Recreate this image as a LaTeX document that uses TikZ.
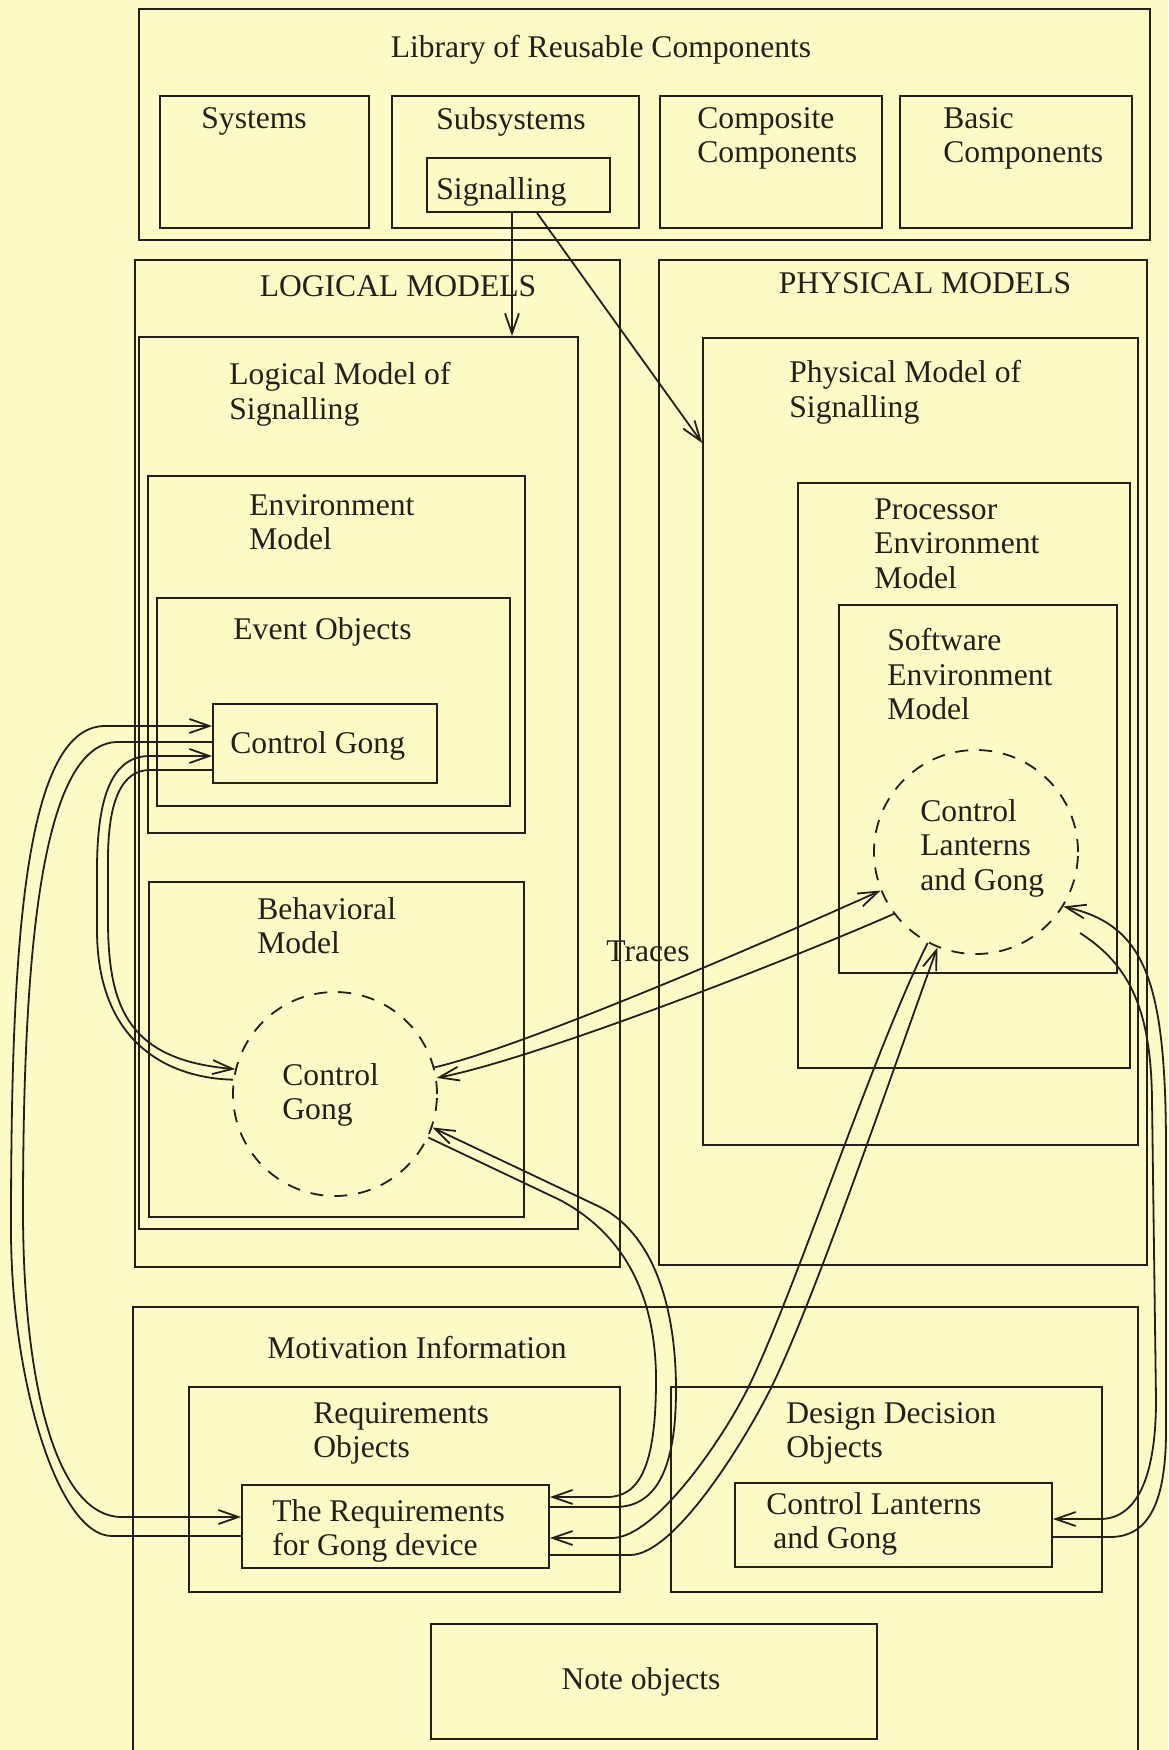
\documentclass[tikz,border=0pt]{standalone}
\usepackage{fontspec}
\setmainfont{Liberation Serif}
\usetikzlibrary{arrows.meta,fit}
\definecolor{paper}{RGB}{252,251,200}
\definecolor{ink}{RGB}{35,32,24}
\begin{document}
\begin{tikzpicture}[x=0.5pt,y=-0.5pt,
  box/.style={draw=ink, line width=0.9pt, inner sep=0pt, fit={#1}},
  dring/.style={circle, draw=ink, line width=0.9pt, dash pattern=on 6.5pt off 5.5pt,
    minimum size=102pt, inner sep=0pt},
  lbl/.style={font=\fontsize{15.8}{17.25}\selectfont, text=ink, inner sep=0pt,
    align=left, anchor=north west},
  clbl/.style={font=\fontsize{15.8}{17.25}\selectfont, text=ink, inner sep=0pt,
    anchor=center, text height=0.69em, text depth=0.23em},
  link/.style={draw=ink, line width=0.9pt, -{Straight Barb[length=10pt,width=7pt]}},
]
\fill[paper] (0,0) rectangle (1168,1750);
\useasboundingbox (0,0) rectangle (1168,1750);
\begin{scope}
\clip (0,0) rectangle (1168,1750);

% ---------- library of reusable components ----------
\node[box={(139,9) (1150,240)}] (lib) {};
\node[box={(160,96) (369,228)}] (sys) {};
\node[box={(392,96) (639,228)}] (subsys) {};
\node[box={(427,158) (610,212)}] (sig) {};
\node[box={(660,96) (882,228)}] (comp) {};
\node[box={(900,96) (1132,228)}] (basic) {};

% ---------- logical models ----------
\node[box={(135,260) (620,1267)}] (logm) {};
\node[box={(139,337) (578,1229)}] (lms) {};
\node[box={(148,476) (525,833)}] (env) {};
\node[box={(157,598) (510,806)}] (evt) {};
\node[box={(213,704) (437,783)}] (cgr) {};
\node[box={(149,882) (524,1217)}] (beh) {};
\node[dring] (cg) at (335,1094) {};

% ---------- physical models ----------
\node[box={(659,260) (1147,1265)}] (phym) {};
\node[box={(703,338) (1138,1145)}] (pms) {};
\node[box={(798,483) (1130,1068)}] (proc) {};
\node[box={(839,605) (1117,973)}] (soft) {};
\node[dring] (lc) at (976,852) {};

% ---------- motivation information ----------
\node[box={(133,1307) (1138,1760)}] (motiv) {};
\node[box={(189,1387) (620,1592)}] (reqo) {};
\node[box={(242,1485) (549,1568)}] (rq) {};
\node[box={(671,1387) (1102,1592)}] (ddo) {};
\node[box={(735,1483) (1052,1567)}] (cl) {};
\node[box={(431,1624) (877,1739)}] (note) {};

% ---------- labels ----------
\node[clbl] (t-lib) at (601,53) {Library of Reusable Components};
\node[lbl] (t-sys) at (201,107) {Systems};
\node[lbl] (t-subsys) at (436,107) {Subsystems};
\node[lbl] (t-sig) at (436,177) {Signalling};
\node[lbl] (t-comp) at (697,107) {Composite\\Components};
\node[lbl] (t-basic) at (943,107) {Basic\\Components};
\node[clbl] (t-logm) at (398,292) {LOGICAL MODELS};
\node[clbl] (t-phym) at (925,289) {PHYSICAL MODELS};
\node[lbl] (t-lms) at (229,362) {Logical Model of\\Signalling};
\node[lbl] (t-pms) at (789,360) {Physical Model of\\Signalling};
\node[lbl] (t-env) at (249,494) {Environment\\Model};
\node[lbl] (t-evt) at (233,617) {Event Objects};
\node[lbl] (t-cgr) at (230,731) {Control Gong};
\node[lbl] (t-beh) at (257,897) {Behavioral\\Model};
\node[lbl] (t-cg) at (282,1063) {Control\\Gong};
\node[lbl] (t-proc) at (874,498) {Processor\\Environment\\Model};
\node[lbl] (t-soft) at (887,628) {Software\\Environment\\Model};
\node[lbl] (t-lc) at (920,799) {Control\\Lanterns\\and Gong};
\node[clbl] (t-traces) at (648,957) {Traces};
\node[lbl] (t-motiv) at (267,1336) {Motivation Information};
\node[lbl] (t-reqo) at (313,1402) {Requirements\\Objects};
\node[lbl] (t-rq) at (272,1499) {The Requirements\\for Gong device};
\node[lbl] (t-ddo) at (786,1402) {Design Decision\\Objects};
\node[lbl] (t-cl) at (766,1492) {Control Lanterns\\\hspace*{3.5pt}and Gong};
\node[clbl] (t-note) at (641,1685) {Note objects};

% ---------- signalling is reused by both models ----------
\coordinate (s1a) at ([shift={(-6.5,0)}]sig.south);
\draw[link] (s1a) -- (s1a |- lms.north);
\draw[link] ([shift={(18.5,0)}]sig.south) -- ([shift={(0,-298.5)}]pms.west);

% ---------- event object <-> requirement (outer loop) ----------
\draw[link] ([shift={(0,9.5)}]rq.west) -- (112,1536)
  .. controls (58,1536) and (11,1380) .. (11,1230)
  .. controls (11,960) and (22,726) .. (105,726)
  -- ([shift={(0,-17.5)}]cgr.west);
\draw[link] ([shift={(0,-1.5)}]cgr.west) -- (118,742)
  .. controls (40,742) and (23,960) .. (23,1210)
  .. controls (23,1380) and (55,1517) .. (122,1517)
  -- ([shift={(0,-9.5)}]rq.west);

% ---------- event object <-> behavioural model ----------
\draw[link] (cg.172) .. controls (165,1078) and (97,1040) .. (97,930)
  -- (97,870) .. controls (97,790) and (115,756) .. (150,756)
  -- ([shift={(0,12.5)}]cgr.west);
\draw[link] ([shift={(0,26.5)}]cgr.west) -- (150,770)
  .. controls (122,770) and (108,800) .. (108,860)
  -- (108,920) .. controls (108,1010) and (130,1060) .. (cg.166);

% ---------- traces between logical and physical ----------
\draw[link] (cg.15) .. controls (520,1048) and (760,945) .. (lc.202);
\draw[link] (lc.217) .. controls (770,968) and (530,1060) .. (cg.9);

% ---------- behavioural model <-> requirement ----------
\draw[link] ([shift={(0,-19.5)}]rq.east) -- (615,1507)
  .. controls (650,1507) and (676,1480) .. (676,1390)
  .. controls (676,1300) and (650,1232) .. (600,1207)
  -- (cg.-19);
\draw[link] (cg.-25) -- (560,1200)
  .. controls (620,1232) and (656,1290) .. (656,1380)
  .. controls (656,1465) and (640,1497) .. (607,1497)
  -- ([shift={(0,-29.5)}]rq.east);

% ---------- software model <-> requirement ----------
\draw[link] (lc.242) .. controls (874,1050) and (792,1300) .. (747,1390)
  .. controls (722,1440) and (655,1538) .. (612,1538)
  -- ([shift={(0,11.5)}]rq.east);
\draw[link] ([shift={(0,28.5)}]rq.east) -- (630,1555)
  .. controls (675,1555) and (745,1440) .. (770,1390)
  .. controls (815,1300) and (898,1055) .. (lc.248);

% ---------- software model <-> design decision ----------
\draw[link] ([shift={(0,12)}]cl.east) -- (1110,1537)
  .. controls (1150,1537) and (1166,1500) .. (1166,1430)
  -- (1166,1150) .. controls (1166,980) and (1145,925) .. (lc.-32);
\coordinate (fin) at (1080,933);
\draw[link] (fin) .. controls (1130,965) and (1151,1010) .. (1152,1100)
  -- (1156,1400) .. controls (1156,1470) and (1140,1519) .. (1100,1519)
  -- ([shift={(0,-6)}]cl.east);
\end{scope}
\end{tikzpicture}
\end{document}
